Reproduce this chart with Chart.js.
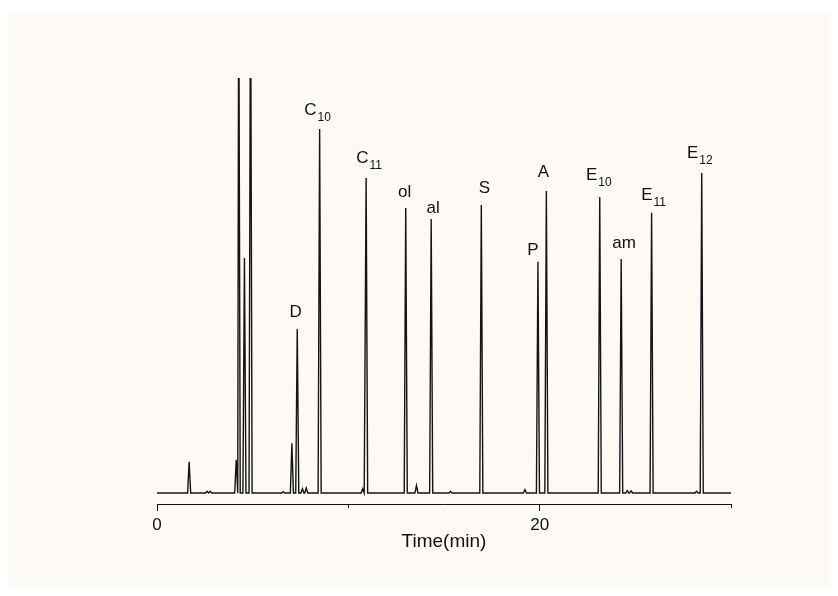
<!DOCTYPE html>
<html>
<head>
<meta charset="utf-8">
<script src="https://cdn.jsdelivr.net/npm/chart.js@4/dist/chart.umd.min.js"></script>
<style>
  html, body { margin: 0; padding: 0; background: #ffffff; }
  #wrap { width: 838px; height: 596px; }
</style>
</head>
<body>
<div id="wrap"><canvas id="gcChart" width="838" height="596"></canvas></div>
<script>
// ----------------- Data -----------------
// retention times (min) and peak heights (arbitrary units, 100 = top of plot)
const peakTimes   = [1.68, 2.62, 2.78, 4.14, 4.27, 4.57, 4.89, 6.60, 7.05, 7.33, 7.60, 7.80, 8.50, 10.75, 10.93,
                     13.00, 13.56, 14.33, 15.34, 16.95, 19.23, 19.91, 20.35, 23.14, 24.26, 24.58, 24.78, 25.85, 28.20, 28.47];
const peakHeights = [7.5, 0.4, 0.4, 8.0, 130, 56.6, 130, 0.3, 12.0, 39.5, 1.0, 1.2, 87.7, 1.0, 75.9,
                     68.7, 1.8, 66.0, 0.4, 69.4, 0.8, 55.7, 72.8, 71.3, 56.4, 0.6, 0.5, 67.5, 0.4, 77.1];

// compound labels (main text + subscript) and the peak they sit on
const labelTexts = ['D', 'C', 'C', 'ol', 'al', 'S', 'P', 'A', 'E', 'am', 'E', 'E'];
const labelSubs  = ['', '10', '11', '', '', '', '', '', '10', '', '11', '12'];
const labelTimes = [7.33, 8.50, 10.93, 13.00, 14.33, 16.95, 19.91, 20.35, 23.14, 24.26, 25.85, 28.47];

const xTicks = [0, 10, 20, 30];
const xTickLabels = ['0', '', '20', ''];

// ----------------- Build trace -----------------
const halfWidth = 0.08;
let trace = [{ x: 0, y: 0 }];
peakTimes.forEach((t, i) => {
  trace.push({ x: t - halfWidth, y: 0 });
  trace.push({ x: t, y: peakHeights[i] });
  trace.push({ x: t + halfWidth, y: 0 });
});
trace.push({ x: 30, y: 0 });

// label nudges in pixels [dx, gap above peak top]
const labelNudge = [[-1.5, 12], [-2, 14], [3, 15], [-1, 11], [2, 6], [3, 12], [-5, 7], [-3, 14], [-1, 17], [3, 11], [2, 13], [-2, 15]];

const FONT = '"Liberation Sans", Arial, Helvetica, sans-serif';

// ----------------- Plugins -----------------
const backdrop = {
  id: 'backdrop',
  beforeDraw(chart) {
    const c = chart.ctx;
    c.save();
    c.fillStyle = '#ffffff';
    c.fillRect(0, 0, chart.width, chart.height);
    c.fillStyle = '#fdf9f5';
    c.fillRect(8, 12, 822, 574);
    c.restore();
  }
};

const peakLabels = {
  id: 'peakLabels',
  afterDatasetsDraw(chart) {
    const c = chart.ctx;
    const xs = chart.scales.x, ys = chart.scales.y;
    c.save();
    c.fillStyle = '#111';
    c.textBaseline = 'alphabetic';
    c.textAlign = 'left';
    labelTexts.forEach((txt, i) => {
      const idx = peakTimes.indexOf(labelTimes[i]);
      const px = xs.getPixelForValue(labelTimes[i]) + labelNudge[i][0];
      const top = ys.getPixelForValue(peakHeights[idx]);
      const base = top - labelNudge[i][1];
      c.font = '17px ' + FONT;
      const w1 = c.measureText(txt).width;
      c.font = '12px ' + FONT;
      const w2 = labelSubs[i] ? c.measureText(labelSubs[i]).width + 1 : 0;
      const x0 = px - (w1 + w2) / 2;
      c.font = '17px ' + FONT;
      c.fillText(txt, x0, base);
      if (labelSubs[i]) {
        c.font = '12px ' + FONT;
        c.fillText(labelSubs[i], x0 + w1 + 1, base + 6);
      }
    });
    c.restore();
  }
};

const minorTicks = {
  id: 'minorTicks',
  afterDraw(chart) {
    const c = chart.ctx;
    const xs = chart.scales.x;
    const yb = chart.chartArea.bottom;
    c.save();
    c.strokeStyle = '#111';
    c.lineWidth = 1;
    xTicks.forEach((v, i) => {
      if (xTickLabels[i] !== '') return;
      const px = Math.round(xs.getPixelForValue(v)) + 0.5;
      c.beginPath();
      c.moveTo(px, yb);
      c.lineTo(px, yb + 4);
      c.stroke();
    });
    c.restore();
  }
};

// ----------------- Chart -----------------
const ctx = document.getElementById('gcChart').getContext('2d');
const gcChart = new Chart(ctx, {
  type: 'line',
  data: {
    datasets: [{
      data: trace,
      borderColor: '#141414',
      borderWidth: 1.4,
      pointRadius: 0,
      tension: 0,
      fill: false
    }]
  },
  options: {
    responsive: false,
    animation: false,
    events: [],
    layout: { padding: { left: 157, right: 107, top: 78, bottom: 36 } },
    plugins: { legend: { display: false }, tooltip: { enabled: false } },
    scales: {
      x: {
        type: 'linear',
        min: 0,
        max: 30,
        afterBuildTicks(scale) { scale.ticks = xTicks.map(v => ({ value: v })); },
        afterFit(scale) { scale.height = 56; },
        ticks: {
          color: '#111',
          padding: 4,
          maxRotation: 0,
          autoSkip: false,
          font: { family: FONT, size: 17 },
          callback: (v) => xTickLabels[xTicks.indexOf(v)] ?? ''
        },
        grid: {
          drawOnChartArea: false,
          drawTicks: true,
          tickLength: 7,
          tickColor: (c) => (xTickLabels[c.index] === '' ? 'rgba(0,0,0,0)' : '#111')
        },
        border: { display: true, color: '#111', width: 1 },
        title: {
          display: true,
          text: 'Time(min)',
          color: '#111',
          font: { family: FONT, size: 19 },
          padding: { top: 4, bottom: 7 }
        }
      },
      y: {
        display: false,
        min: -2.65,
        max: 100
      }
    }
  },
  plugins: [backdrop, peakLabels, minorTicks]
});
</script>
</body>
</html>
